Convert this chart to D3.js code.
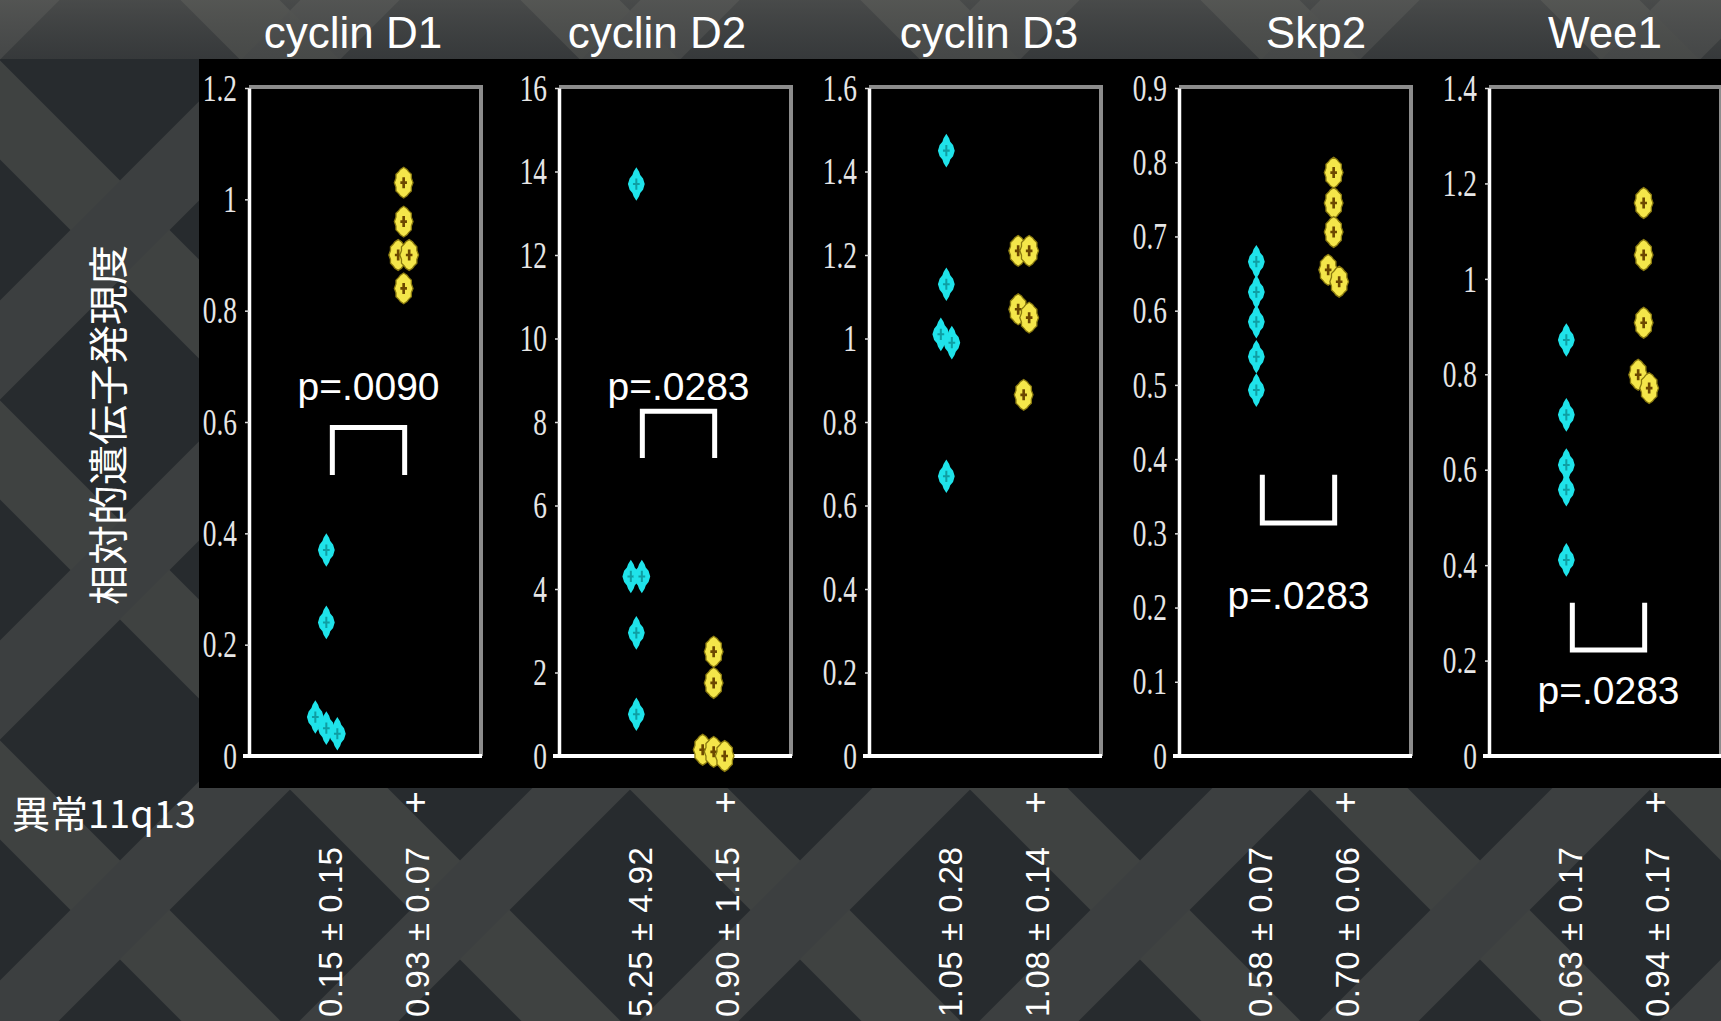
<!DOCTYPE html>
<html>
<head>
<meta charset="utf-8">
<title>11q13 genes</title>
<script src="https://d3js.org/d3.v7.min.js"></script>
<style>
    body { margin: 0; background: #2b2f32; }
    svg { display: block; }
</style>
</head>
<body>
<div class="graph"></div>
<script>
// genes shown left to right
const genes = ['cyclin D1', 'cyclin D2', 'cyclin D3', 'Skp2', 'Wee1'];

// y axis ticks for each panel
const ticksD1 = [0, 0.2, 0.4, 0.6, 0.8, 1, 1.2];
const ticksD2 = [0, 2, 4, 6, 8, 10, 12, 14, 16];
const ticksD3 = [0, 0.2, 0.4, 0.6, 0.8, 1, 1.2, 1.4, 1.6];
const ticksSkp2 = [0, 0.1, 0.2, 0.3, 0.4, 0.5, 0.6, 0.7, 0.8, 0.9];
const ticksWee1 = [0, 0.2, 0.4, 0.6, 0.8, 1, 1.2, 1.4];

// relative expression, 11q13 abnormality absent (cyan) / present (yellow)
const negD1 = [0.37, 0.24, 0.07, 0.05, 0.04];
const posD1 = [1.03, 0.96, 0.90, 0.90, 0.84];
const negD2 = [13.7, 4.3, 4.3, 2.95, 1.0];
const posD2 = [2.5, 1.75, 0.15, 0.1, 0.0];
const negD3 = [1.45, 1.13, 1.01, 0.99, 0.67];
const posD3 = [1.21, 1.21, 1.07, 1.05, 0.865];
const negSkp2 = [0.666, 0.625, 0.585, 0.538, 0.493];
const posSkp2 = [0.786, 0.745, 0.706, 0.655, 0.639];
const negWee1 = [0.872, 0.715, 0.61, 0.558, 0.411];
const posWee1 = [1.159, 1.05, 0.908, 0.799, 0.771];

// mean ± SD texts under each group
const negLabels = ['0.15 ± 0.15', '5.25 ± 4.92', '1.05 ± 0.28', '0.58 ± 0.07', '0.63 ± 0.17'];
const posLabels = ['0.93 ± 0.07', '0.90 ± 1.15', '1.08 ± 0.14', '0.70 ± 0.06', '0.94 ± 0.17'];

// p values, bracket ends (in axis units) and where the text sits
const pTexts = ['p=.0090', 'p=.0283', null, 'p=.0283', 'p=.0283'];
const pBracketFrom = [0.505, 7.14, null, 0.379, 0.321];
const pBracketTo = [0.59, 8.26, null, 0.314, 0.222];
const pTextAt = [0.64, 8.52, null, 0.198, 0.109];

const groups = ['-', '+'];
const tickSets = [ticksD1, ticksD2, ticksD3, ticksSkp2, ticksWee1];
const negSets = [negD1, negD2, negD3, negSkp2, negWee1];
const posSets = [posD1, posD2, posD3, posSkp2, posWee1];

const width = 1721, height = 1021;

const svg = d3.select('.graph').append('svg')
    .attr('width', width)
    .attr('height', height);

// lattice-ish backdrop
const defs = svg.append('defs');
const tile = 340;
const pat = defs.append('pattern')
    .attr('id', 'lattice')
    .attr('patternUnits', 'userSpaceOnUse')
    .attr('width', tile).attr('height', tile)
    .attr('x', -50).attr('y', 60);
pat.append('rect').attr('width', tile).attr('height', tile).attr('fill', '#272b2e');
[-1, 0, 1].forEach(k => {
    pat.append('line')
        .attr('x1', -tile).attr('y1', -tile + k * tile)
        .attr('x2', 2 * tile).attr('y2', 2 * tile + k * tile)
        .attr('stroke', '#3f4241').attr('stroke-width', 70);
    pat.append('line')
        .attr('x1', -tile).attr('y1', 2 * tile + k * tile)
        .attr('x2', 2 * tile).attr('y2', -tile + k * tile)
        .attr('stroke', '#3c3f40').attr('stroke-width', 70);
});
svg.append('rect').attr('width', width).attr('height', height).attr('fill', 'url(#lattice)');

const topShade = defs.append('linearGradient').attr('id', 'topShade')
    .attr('x1', 0).attr('x2', 0).attr('y1', 0).attr('y2', 1);
topShade.append('stop').attr('offset', 0).attr('stop-color', '#6a6a66').attr('stop-opacity', 0.5);
topShade.append('stop').attr('offset', 1).attr('stop-color', '#5a5a58').attr('stop-opacity', 0.3);
svg.append('rect').attr('width', width).attr('height', 59).attr('fill', 'url(#topShade)');

// black plotting board
svg.append('rect')
    .attr('x', 199).attr('y', 59)
    .attr('width', width - 199).attr('height', 729)
    .attr('fill', '#000');

// panels
const panelX = d3.scaleBand()
    .domain(genes)
    .range([249, 1721])
    .paddingInner(0.2516)
    .paddingOuter(0);

const plotTop = 88, plotBottom = 756;
// small shifts of the gene titles off the panel centre
const titleNudge = [-12, -18, 4, 21, 0];

const cyanShape = 'M0,-15L2.5,-11L3.5,-8L6,-5L7.5,0L6,5L3.5,8L2.5,11L0,15L-2.5,11L-3.5,8L-6,5L-7.5,0L-6,-5L-3.5,-8L-2.5,-11Z';
const yellowShape = 'M0,-14L3,-12L4.5,-10L7,-7.5L7,-4L8.5,0L7,4L7,7.5L4.5,10L3,12L0,14L-3,12L-4.5,10L-7,7.5L-7,4L-8.5,0L-7,-4L-7,-7.5L-4.5,-10L-3,-12Z';

// spread points of a group that sit on top of each other
function dodge(values, y) {
    const pts = values.map(v => ({ v: v, py: y(v), dx: 0 }))
        .sort((a, b) => a.py - b.py);
    let cluster = [];
    const flush = () => {
        cluster.forEach((p, i) => { p.dx = (i - (cluster.length - 1) / 2) * 11; });
        cluster = [];
    };
    pts.forEach(p => {
        if (cluster.length && p.py - cluster[cluster.length - 1].py > 15) flush();
        cluster.push(p);
    });
    flush();
    return pts;
}

genes.forEach((gene, i) => {
    const x0 = panelX(gene);
    const w = panelX.bandwidth();
    const ticks = tickSets[i];
    const yMax = ticks[ticks.length - 1];

    const y = d3.scaleLinear().domain([0, yMax]).range([plotBottom, plotTop]);
    const x = d3.scalePoint().domain(groups).range([0, w]).padding(1);

    const g = svg.append('g').attr('transform', `translate(${x0},0)`);

    // gray frame top and right
    g.append('path')
        .attr('d', `M0,${y(yMax) - 1}H${w}V${y(0)}`)
        .attr('fill', 'none')
        .attr('stroke', '#8c8c8c')
        .attr('stroke-width', 4);

    // y axis
    const yAxis = d3.axisLeft(y)
        .tickValues(ticks)
        .tickFormat(d => String(d))
        .tickSize(4)
        .tickSizeOuter(0);
    const ax = g.append('g').call(yAxis);
    ax.select('.domain').attr('stroke', '#fff').attr('stroke-width', 3.5);
    ax.selectAll('.tick line').attr('stroke', '#ddd').attr('stroke-width', 1.5);
    ax.selectAll('.tick text')
        .attr('fill', '#e6e6e6')
        .attr('font-family', '"Liberation Serif", "DejaVu Serif", serif')
        .attr('font-size', 37)
        .attr('x', -12 / 0.74)
        .attr('dy', '0.33em')
        .attr('transform', 'scale(0.74,1)');

    // x baseline
    g.append('line')
        .attr('x1', -6).attr('x2', w + 1)
        .attr('y1', y(0)).attr('y2', y(0))
        .attr('stroke', '#fff')
        .attr('stroke-width', 4);

    // points
    const neg = dodge(negSets[i], y);
    const pos = dodge(posSets[i], y);

    const negG = g.selectAll('.neg').data(neg).enter().append('g')
        .attr('class', 'neg')
        .attr('transform', d => `translate(${x('-') + d.dx},${d.py}) scale(1.12)`);
    negG.append('path').attr('d', cyanShape).attr('fill', '#1fe3ea');
    negG.append('path').attr('d', 'M0,-5V5M-3,0H3')
        .attr('stroke', '#0f9ea3').attr('stroke-width', 1.8);

    const posG = g.selectAll('.pos').data(pos).enter().append('g')
        .attr('class', 'pos')
        .attr('transform', d => `translate(${x('+') + d.dx},${d.py}) scale(1.1)`);
    posG.append('path').attr('d', yellowShape)
        .attr('fill', '#f4e64a').attr('stroke', '#8a7a10').attr('stroke-width', 1.2);
    posG.append('path').attr('d', 'M0,-5V5M-3,0H3')
        .attr('stroke', '#6b4700').attr('stroke-width', 2.4);

    // significance bracket
    if (pTexts[i]) {
        const bx1 = x('-') + 6, bx2 = x('+') + 1;
        const yFrom = y(pBracketFrom[i]), yTo = y(pBracketTo[i]);
        g.append('path')
            .attr('d', `M${bx1},${yFrom}V${yTo}H${bx2}V${yFrom}`)
            .attr('fill', 'none')
            .attr('stroke', '#fff')
            .attr('stroke-width', 5);
        g.append('text')
            .attr('x', (bx1 + bx2) / 2)
            .attr('y', y(pTextAt[i]))
            .attr('text-anchor', 'middle')
            .attr('fill', '#fff')
            .attr('font-family', '"Liberation Sans", Arial, sans-serif')
            .attr('font-size', 39)
            .text(pTexts[i]);
    }

    // gene title
    svg.append('text')
        .attr('x', x0 + w / 2 + titleNudge[i])
        .attr('y', 48)
        .attr('text-anchor', 'middle')
        .attr('fill', '#fff')
        .attr('font-family', '"Liberation Sans", Arial, sans-serif')
        .attr('font-size', 44)
        .text(gene);

    // "+" marker under the 11q13 positive group
    svg.append('text')
        .attr('x', x0 + x('+') + 12)
        .attr('y', 815)
        .attr('text-anchor', 'middle')
        .attr('fill', '#fff')
        .attr('font-family', '"Liberation Sans", Arial, sans-serif')
        .attr('font-size', 38)
        .text('+');

    // mean ± SD, rotated
    [[negLabels[i], x('-') + 4], [posLabels[i], x('+') + 14]].forEach(([t, gx]) => {
        svg.append('text')
            .attr('transform', `translate(${x0 + gx},1017) rotate(-90)`)
            .attr('dominant-baseline', 'central')
            .attr('fill', '#fff')
            .attr('font-family', '"Liberation Sans", Arial, sans-serif')
            .attr('font-size', 33)
            .attr('letter-spacing', 0.5)
            .text(t);
    });
});

// y axis title
svg.append('text')
    .attr('transform', 'translate(106,425) rotate(-90)')
    .attr('text-anchor', 'middle')
    .attr('dominant-baseline', 'central')
    .attr('fill', '#fff')
    .attr('font-family', '"Noto Sans CJK JP", sans-serif')
    .attr('font-size', 40)
    .text('相対的遺伝子発現度');

// row label
svg.append('text')
    .attr('x', 12)
    .attr('y', 828)
    .attr('fill', '#fff')
    .attr('font-family', '"Noto Sans CJK JP", sans-serif')
    .attr('font-size', 38)
    .text('異常11q13');
</script>
</body>
</html>
